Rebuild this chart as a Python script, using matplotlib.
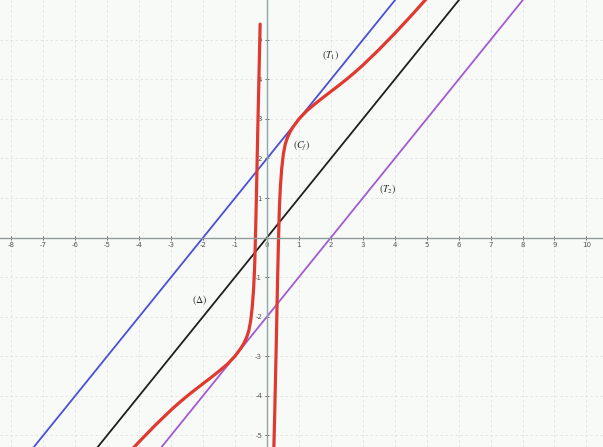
import numpy as np
import matplotlib.pyplot as plt

# straight lines: y = x + b, drawn between two x values
line_x = [-9, 11]
delta_b = 0     # (Δ)
t1_b = 2        # (T1)
t2_b = -2       # (T2)

# red curve (C_f)
right_x = [0.215, 0.24, 0.265, 0.29, 0.31, 0.33, 0.35, 0.37, 0.39, 0.42, 0.46,
           0.51, 0.57, 0.64, 0.72, 0.81, 0.90, 1.0, 1.25, 1.5, 1.75, 2.0, 2.25,
           2.5, 2.75, 3.0, 3.5, 4.0, 4.5, 5.0]
right_y = [-5.3, -4.5, -3.6, -2.7, -1.9, -1.1, -0.4, 0.25, 0.8, 1.3, 1.74,
           2.1, 2.36, 2.53, 2.67, 2.79, 2.89, 3.0, 3.21, 3.38, 3.54, 3.695, 3.85,
           4.01, 4.18, 4.36, 4.75, 5.165, 5.6, 6.05]

left_x = [-5.0, -4.5, -4.0, -3.5, -3.0, -2.75, -2.5, -2.25, -2.0, -1.75, -1.5, -1.25,
          -1.0, -0.90, -0.81, -0.72, -0.64, -0.57, -0.51, -0.46, -0.42, -0.39, -0.37,
          -0.35, -0.33, -0.31, -0.29, -0.265, -0.24, -0.215]
left_y = [-6.05, -5.6, -5.165, -4.75, -4.36, -4.18, -4.01, -3.85, -3.695, -3.54, -3.38,
          -3.21, -3.0, -2.89, -2.79, -2.67, -2.53, -2.36, -2.1, -1.74, -1.3, -0.8, -0.25,
          0.4, 1.1, 1.9, 2.7, 3.6, 4.5, 5.4]

x_ticks = list(range(-8, 11))
y_ticks = [-5, -4, -3, -2, -1, 1, 2, 3, 4, 5]

fig = plt.figure(figsize=(6.03, 4.47), dpi=100)
ax = fig.add_axes([0, 0, 1, 1])
ax.set_facecolor('#f8faf8')
fig.patch.set_facecolor('#f8faf8')

ax.set_xlim(-8.36, 10.52)
ax.set_ylim(-5.30, 6.01)

ax.grid(True, ls=(0, (3, 3)), color='#dfe3df', lw=0.6)
ax.set_axisbelow(True)

for s in ['top', 'right']:
    ax.spines[s].set_visible(False)
ax.spines['left'].set_position('zero')
ax.spines['bottom'].set_position('zero')
ax.spines['left'].set_color('#8fa6a6')
ax.spines['bottom'].set_color('#8f9a9a')
ax.spines['left'].set_linewidth(1.0)
ax.spines['bottom'].set_linewidth(1.0)

ax.set_xticks(x_ticks)
ax.set_yticks(y_ticks)
ax.set_xticklabels([str(v) for v in x_ticks])
ax.set_yticklabels([str(v) for v in y_ticks])
ax.tick_params(direction='inout', length=3, width=0.6, colors='#555555',
               labelsize=5, pad=2)

lx = np.array(line_x, dtype=float)
ax.plot(lx, lx + t1_b, color='#4b4fd6', lw=1.3)
ax.plot(lx, lx + delta_b, color='#1e1e1e', lw=1.3)
ax.plot(lx, lx + t2_b, color='#a25ad2', lw=1.3)

ax.plot(right_x, right_y, color='#e03a30', lw=2.3, solid_capstyle='round')
ax.plot(left_x, left_y, color='#e03a30', lw=2.3, solid_capstyle='round')

plt.rcParams['mathtext.fontset'] = 'stix'
lab = dict(fontsize=7, color='#2a2a2a', fontweight='bold')
ax.text(1.72, 4.55, r'$(T_1)$', **lab)
ax.text(0.80, 2.25, r'$(C_f)$', **lab)
ax.text(3.5, 1.15, r'$(T_2)$', **lab)
ax.text(-2.35, -1.65, r'$(\Delta)$', **lab)

fig.savefig('out.png', dpi=100, facecolor=fig.get_facecolor())
